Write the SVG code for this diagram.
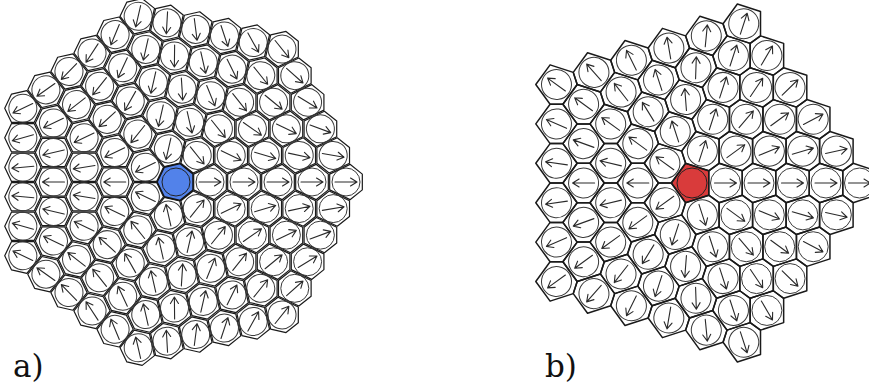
<svg xmlns="http://www.w3.org/2000/svg" xmlns:xlink="http://www.w3.org/1999/xlink" width="869" height="385" viewBox="0 0 869 385">
<style>
.hx{fill:none;stroke:#1a1a1a;stroke-width:1.2;stroke-linejoin:round}
.hb{fill:none;stroke:#1a1a1a;stroke-width:1.5;stroke-linejoin:round}
.ci{fill:none;stroke:#3a3a3a;stroke-width:1}
.ar{fill:none;stroke:#2a2a2a;stroke-width:1.1;stroke-linecap:round;stroke-linejoin:round}
.lb{font-family:"DejaVu Serif","Liberation Serif",serif;font-size:31px;fill:#111}
</style>
<defs>
<path id="ar" class="ar" d="M-11,0H11M4.5,-4L11,0L4.5,4"/>
<g id="cA"><path class="hx" d="M16.32,7.86L4.03,17.66L-16.32,7.86L-16.32,-7.86L-4.03,-17.66L16.32,-7.86Z"/><circle class="ci" r="14"/></g>
<g id="cA0"><path class="hx" d="M16.32,7.86L4.03,17.66L-16.32,7.86L-16.32,-7.86L4.03,-17.66L16.32,-7.86Z"/><circle class="ci" r="14"/></g>
<g id="cB"><path class="hb" d="M16.75,12.17L-6.4,19.69L-16.75,12.17L-16.75,-12.17L6.4,-19.69L16.75,-12.17Z"/><circle class="ci" r="15"/></g>
<g id="cB0"><path class="hb" d="M16.75,12.17L-6.4,19.69L-16.75,12.17L-16.75,-12.17L-6.4,-19.69L16.75,-12.17Z"/><circle class="ci" r="15"/></g>
</defs>
<rect width="869" height="385" fill="#fff"/>

<g id="panel-a">
<g id="a-center" transform="translate(176,182)"><polygon points="17,8.19 4.2,18.4 -11.76,14.75 -18.87,0 -11.76,-14.75 4.2,-18.4 17,-8.19" fill="#5282ea" stroke="#111" stroke-width="1.5"/><circle r="14" fill="none" stroke="#222" stroke-width="1"/></g>

<g id="a-s0" transform="translate(176,182) rotate(0)">
<g id="a0-1" transform="translate(34,0)"><use href="#cA0"/><use href="#ar" transform="rotate(0)"/></g>
<g id="a0-2" transform="translate(68,0)"><use href="#cA0"/><use href="#ar" transform="rotate(0)"/></g>
<g id="a0-3" transform="translate(55.2,26.58)"><use href="#cA"/><use href="#ar" transform="rotate(-25.71)"/></g>
<g id="a0-4" transform="translate(102,0)"><use href="#cA0"/><use href="#ar" transform="rotate(0)"/></g>
<g id="a0-5" transform="translate(89.2,26.58)"><use href="#cA"/><use href="#ar" transform="rotate(-16.59)"/></g>
<g id="a0-6" transform="translate(76.4,53.16)"><use href="#cA"/><use href="#ar" transform="rotate(-34.84)"/></g>
<g id="a0-7" transform="translate(136,0)"><use href="#cA0"/><use href="#ar" transform="rotate(0)"/></g>
<g id="a0-8" transform="translate(123.2,26.58)"><use href="#cA"/><use href="#ar" transform="rotate(-12.18)"/></g>
<g id="a0-9" transform="translate(110.4,53.16)"><use href="#cA"/><use href="#ar" transform="rotate(-25.71)"/></g>
<g id="a0-10" transform="translate(97.6,79.75)"><use href="#cA"/><use href="#ar" transform="rotate(-39.25)"/></g>
<g id="a0-11" transform="translate(170,0)"><use href="#cA0"/><use href="#ar" transform="rotate(0)"/></g>
<g id="a0-12" transform="translate(157.2,26.58)"><use href="#cA"/><use href="#ar" transform="rotate(-9.6)"/></g>
<g id="a0-13" transform="translate(144.4,53.16)"><use href="#cA"/><use href="#ar" transform="rotate(-20.21)"/></g>
<g id="a0-14" transform="translate(131.6,79.75)"><use href="#cA"/><use href="#ar" transform="rotate(-31.22)"/></g>
<g id="a0-15" transform="translate(118.8,106.33)"><use href="#cA"/><use href="#ar" transform="rotate(-41.83)"/></g>
</g>

<g id="a-s1" transform="translate(176,182) rotate(51.4286)">
<g id="a1-1" transform="translate(34,0)"><use href="#cA0"/><use href="#ar" transform="rotate(-102.86)"/></g>
<g id="a1-2" transform="translate(68,0)"><use href="#cA0"/><use href="#ar" transform="rotate(-102.86)"/></g>
<g id="a1-3" transform="translate(55.2,26.58)"><use href="#cA"/><use href="#ar" transform="rotate(-128.57)"/></g>
<g id="a1-4" transform="translate(102,0)"><use href="#cA0"/><use href="#ar" transform="rotate(-102.86)"/></g>
<g id="a1-5" transform="translate(89.2,26.58)"><use href="#cA"/><use href="#ar" transform="rotate(-119.45)"/></g>
<g id="a1-6" transform="translate(76.4,53.16)"><use href="#cA"/><use href="#ar" transform="rotate(-137.7)"/></g>
<g id="a1-7" transform="translate(136,0)"><use href="#cA0"/><use href="#ar" transform="rotate(-102.86)"/></g>
<g id="a1-8" transform="translate(123.2,26.58)"><use href="#cA"/><use href="#ar" transform="rotate(-115.04)"/></g>
<g id="a1-9" transform="translate(110.4,53.16)"><use href="#cA"/><use href="#ar" transform="rotate(-128.57)"/></g>
<g id="a1-10" transform="translate(97.6,79.75)"><use href="#cA"/><use href="#ar" transform="rotate(-142.11)"/></g>
<g id="a1-11" transform="translate(170,0)"><use href="#cA0"/><use href="#ar" transform="rotate(-102.86)"/></g>
<g id="a1-12" transform="translate(157.2,26.58)"><use href="#cA"/><use href="#ar" transform="rotate(-112.46)"/></g>
<g id="a1-13" transform="translate(144.4,53.16)"><use href="#cA"/><use href="#ar" transform="rotate(-123.07)"/></g>
<g id="a1-14" transform="translate(131.6,79.75)"><use href="#cA"/><use href="#ar" transform="rotate(-134.08)"/></g>
<g id="a1-15" transform="translate(118.8,106.33)"><use href="#cA"/><use href="#ar" transform="rotate(-144.69)"/></g>
</g>

<g id="a-s2" transform="translate(176,182) rotate(102.857)">
<g id="a2-1" transform="translate(34,0)"><use href="#cA0"/><use href="#ar" transform="rotate(154.29)"/></g>
<g id="a2-2" transform="translate(68,0)"><use href="#cA0"/><use href="#ar" transform="rotate(154.29)"/></g>
<g id="a2-3" transform="translate(55.2,26.58)"><use href="#cA"/><use href="#ar" transform="rotate(128.58)"/></g>
<g id="a2-4" transform="translate(102,0)"><use href="#cA0"/><use href="#ar" transform="rotate(154.29)"/></g>
<g id="a2-5" transform="translate(89.2,26.58)"><use href="#cA"/><use href="#ar" transform="rotate(137.7)"/></g>
<g id="a2-6" transform="translate(76.4,53.16)"><use href="#cA"/><use href="#ar" transform="rotate(119.45)"/></g>
<g id="a2-7" transform="translate(136,0)"><use href="#cA0"/><use href="#ar" transform="rotate(154.29)"/></g>
<g id="a2-8" transform="translate(123.2,26.58)"><use href="#cA"/><use href="#ar" transform="rotate(142.11)"/></g>
<g id="a2-9" transform="translate(110.4,53.16)"><use href="#cA"/><use href="#ar" transform="rotate(128.58)"/></g>
<g id="a2-10" transform="translate(97.6,79.75)"><use href="#cA"/><use href="#ar" transform="rotate(115.04)"/></g>
<g id="a2-11" transform="translate(170,0)"><use href="#cA0"/><use href="#ar" transform="rotate(154.29)"/></g>
<g id="a2-12" transform="translate(157.2,26.58)"><use href="#cA"/><use href="#ar" transform="rotate(144.69)"/></g>
<g id="a2-13" transform="translate(144.4,53.16)"><use href="#cA"/><use href="#ar" transform="rotate(134.08)"/></g>
<g id="a2-14" transform="translate(131.6,79.75)"><use href="#cA"/><use href="#ar" transform="rotate(123.07)"/></g>
<g id="a2-15" transform="translate(118.8,106.33)"><use href="#cA"/><use href="#ar" transform="rotate(112.46)"/></g>
</g>

<g id="a-s3" transform="translate(176,182) rotate(154.286)">
<g id="a3-1" transform="translate(34,0)"><use href="#cA0"/><use href="#ar" transform="rotate(51.43)"/></g>
<g id="a3-2" transform="translate(68,0)"><use href="#cA0"/><use href="#ar" transform="rotate(51.43)"/></g>
<g id="a3-3" transform="translate(55.2,26.58)"><use href="#cA"/><use href="#ar" transform="rotate(25.72)"/></g>
<g id="a3-4" transform="translate(102,0)"><use href="#cA0"/><use href="#ar" transform="rotate(51.43)"/></g>
<g id="a3-5" transform="translate(89.2,26.58)"><use href="#cA"/><use href="#ar" transform="rotate(34.84)"/></g>
<g id="a3-6" transform="translate(76.4,53.16)"><use href="#cA"/><use href="#ar" transform="rotate(16.59)"/></g>
<g id="a3-7" transform="translate(136,0)"><use href="#cA0"/><use href="#ar" transform="rotate(51.43)"/></g>
<g id="a3-8" transform="translate(123.2,26.58)"><use href="#cA"/><use href="#ar" transform="rotate(39.25)"/></g>
<g id="a3-9" transform="translate(110.4,53.16)"><use href="#cA"/><use href="#ar" transform="rotate(25.72)"/></g>
<g id="a3-10" transform="translate(97.6,79.75)"><use href="#cA"/><use href="#ar" transform="rotate(12.18)"/></g>
<g id="a3-11" transform="translate(170,0)"><use href="#cA0"/><use href="#ar" transform="rotate(51.43)"/></g>
<g id="a3-12" transform="translate(157.2,26.58)"><use href="#cA"/><use href="#ar" transform="rotate(41.83)"/></g>
<g id="a3-13" transform="translate(144.4,53.16)"><use href="#cA"/><use href="#ar" transform="rotate(31.22)"/></g>
<g id="a3-14" transform="translate(131.6,79.75)"><use href="#cA"/><use href="#ar" transform="rotate(20.21)"/></g>
<g id="a3-15" transform="translate(118.8,106.33)"><use href="#cA"/><use href="#ar" transform="rotate(9.6)"/></g>
</g>

<g id="a-s4" transform="translate(176,182) rotate(205.714)">
<g id="a4-1" transform="translate(34,0)"><use href="#cA0"/><use href="#ar" transform="rotate(-51.43)"/></g>
<g id="a4-2" transform="translate(68,0)"><use href="#cA0"/><use href="#ar" transform="rotate(-51.43)"/></g>
<g id="a4-3" transform="translate(55.2,26.58)"><use href="#cA"/><use href="#ar" transform="rotate(-77.14)"/></g>
<g id="a4-4" transform="translate(102,0)"><use href="#cA0"/><use href="#ar" transform="rotate(-51.43)"/></g>
<g id="a4-5" transform="translate(89.2,26.58)"><use href="#cA"/><use href="#ar" transform="rotate(-68.02)"/></g>
<g id="a4-6" transform="translate(76.4,53.16)"><use href="#cA"/><use href="#ar" transform="rotate(-86.27)"/></g>
<g id="a4-7" transform="translate(136,0)"><use href="#cA0"/><use href="#ar" transform="rotate(-51.43)"/></g>
<g id="a4-8" transform="translate(123.2,26.58)"><use href="#cA"/><use href="#ar" transform="rotate(-63.61)"/></g>
<g id="a4-9" transform="translate(110.4,53.16)"><use href="#cA"/><use href="#ar" transform="rotate(-77.14)"/></g>
<g id="a4-10" transform="translate(97.6,79.75)"><use href="#cA"/><use href="#ar" transform="rotate(-90.68)"/></g>
<g id="a4-11" transform="translate(170,0)"><use href="#cA0"/><use href="#ar" transform="rotate(-51.43)"/></g>
<g id="a4-12" transform="translate(157.2,26.58)"><use href="#cA"/><use href="#ar" transform="rotate(-61.03)"/></g>
<g id="a4-13" transform="translate(144.4,53.16)"><use href="#cA"/><use href="#ar" transform="rotate(-71.64)"/></g>
<g id="a4-14" transform="translate(131.6,79.75)"><use href="#cA"/><use href="#ar" transform="rotate(-82.65)"/></g>
<g id="a4-15" transform="translate(118.8,106.33)"><use href="#cA"/><use href="#ar" transform="rotate(-93.26)"/></g>
</g>

<g id="a-s5" transform="translate(176,182) rotate(257.143)">
<g id="a5-1" transform="translate(34,0)"><use href="#cA0"/><use href="#ar" transform="rotate(-154.29)"/></g>
<g id="a5-2" transform="translate(68,0)"><use href="#cA0"/><use href="#ar" transform="rotate(-154.29)"/></g>
<g id="a5-3" transform="translate(55.2,26.58)"><use href="#cA"/><use href="#ar" transform="rotate(180)"/></g>
<g id="a5-4" transform="translate(102,0)"><use href="#cA0"/><use href="#ar" transform="rotate(-154.29)"/></g>
<g id="a5-5" transform="translate(89.2,26.58)"><use href="#cA"/><use href="#ar" transform="rotate(-170.88)"/></g>
<g id="a5-6" transform="translate(76.4,53.16)"><use href="#cA"/><use href="#ar" transform="rotate(170.87)"/></g>
<g id="a5-7" transform="translate(136,0)"><use href="#cA0"/><use href="#ar" transform="rotate(-154.29)"/></g>
<g id="a5-8" transform="translate(123.2,26.58)"><use href="#cA"/><use href="#ar" transform="rotate(-166.47)"/></g>
<g id="a5-9" transform="translate(110.4,53.16)"><use href="#cA"/><use href="#ar" transform="rotate(180)"/></g>
<g id="a5-10" transform="translate(97.6,79.75)"><use href="#cA"/><use href="#ar" transform="rotate(166.46)"/></g>
<g id="a5-11" transform="translate(170,0)"><use href="#cA0"/><use href="#ar" transform="rotate(-154.29)"/></g>
<g id="a5-12" transform="translate(157.2,26.58)"><use href="#cA"/><use href="#ar" transform="rotate(-163.89)"/></g>
<g id="a5-13" transform="translate(144.4,53.16)"><use href="#cA"/><use href="#ar" transform="rotate(-174.5)"/></g>
<g id="a5-14" transform="translate(131.6,79.75)"><use href="#cA"/><use href="#ar" transform="rotate(174.49)"/></g>
<g id="a5-15" transform="translate(118.8,106.33)"><use href="#cA"/><use href="#ar" transform="rotate(163.88)"/></g>
</g>

<g id="a-s6" transform="translate(176,182) rotate(308.571)">
<g id="a6-1" transform="translate(34,0)"><use href="#cA0"/><use href="#ar" transform="rotate(102.86)"/></g>
<g id="a6-2" transform="translate(68,0)"><use href="#cA0"/><use href="#ar" transform="rotate(102.86)"/></g>
<g id="a6-3" transform="translate(55.2,26.58)"><use href="#cA"/><use href="#ar" transform="rotate(77.15)"/></g>
<g id="a6-4" transform="translate(102,0)"><use href="#cA0"/><use href="#ar" transform="rotate(102.86)"/></g>
<g id="a6-5" transform="translate(89.2,26.58)"><use href="#cA"/><use href="#ar" transform="rotate(86.27)"/></g>
<g id="a6-6" transform="translate(76.4,53.16)"><use href="#cA"/><use href="#ar" transform="rotate(68.02)"/></g>
<g id="a6-7" transform="translate(136,0)"><use href="#cA0"/><use href="#ar" transform="rotate(102.86)"/></g>
<g id="a6-8" transform="translate(123.2,26.58)"><use href="#cA"/><use href="#ar" transform="rotate(90.68)"/></g>
<g id="a6-9" transform="translate(110.4,53.16)"><use href="#cA"/><use href="#ar" transform="rotate(77.15)"/></g>
<g id="a6-10" transform="translate(97.6,79.75)"><use href="#cA"/><use href="#ar" transform="rotate(63.61)"/></g>
<g id="a6-11" transform="translate(170,0)"><use href="#cA0"/><use href="#ar" transform="rotate(102.86)"/></g>
<g id="a6-12" transform="translate(157.2,26.58)"><use href="#cA"/><use href="#ar" transform="rotate(93.26)"/></g>
<g id="a6-13" transform="translate(144.4,53.16)"><use href="#cA"/><use href="#ar" transform="rotate(82.65)"/></g>
<g id="a6-14" transform="translate(131.6,79.75)"><use href="#cA"/><use href="#ar" transform="rotate(71.64)"/></g>
<g id="a6-15" transform="translate(118.8,106.33)"><use href="#cA"/><use href="#ar" transform="rotate(61.03)"/></g>
</g>
<text id="label-a" class="lb" x="13" y="377">a)</text>
</g>

<g id="panel-b">
<g id="b-center" transform="translate(692,183)"><polygon points="16.75,12.17 -6.4,19.69 -20.7,0 -6.4,-19.69 16.75,-12.17" fill="#d93b3b" stroke="#1a1a1a" stroke-width="1.5"/><circle r="15" fill="none" stroke="#222" stroke-width="1"/></g>

<g id="b-s0" transform="translate(692,183) rotate(0)">
<g id="b0-1" transform="translate(33.5,0)"><use href="#cB0"/><use href="#ar"/></g>
<g id="b0-2" transform="translate(67,0)"><use href="#cB0"/><use href="#ar"/></g>
<g id="b0-3" transform="translate(43.85,31.86)"><use href="#cB"/><use href="#ar" transform="rotate(36)"/></g>
<g id="b0-4" transform="translate(100.5,0)"><use href="#cB0"/><use href="#ar"/></g>
<g id="b0-5" transform="translate(77.35,31.86)"><use href="#cB"/><use href="#ar" transform="rotate(22.39)"/></g>
<g id="b0-6" transform="translate(54.2,63.72)"><use href="#cB"/><use href="#ar" transform="rotate(49.61)"/></g>
<g id="b0-7" transform="translate(134,0)"><use href="#cB0"/><use href="#ar"/></g>
<g id="b0-8" transform="translate(110.85,31.86)"><use href="#cB"/><use href="#ar" transform="rotate(16.04)"/></g>
<g id="b0-9" transform="translate(87.7,63.72)"><use href="#cB"/><use href="#ar" transform="rotate(36)"/></g>
<g id="b0-10" transform="translate(64.56,95.58)"><use href="#cB"/><use href="#ar" transform="rotate(55.96)"/></g>
<g id="b0-11" transform="translate(167.5,0)"><use href="#cB0"/><use href="#ar"/></g>
<g id="b0-12" transform="translate(144.35,31.86)"><use href="#cB"/><use href="#ar" transform="rotate(12.45)"/></g>
<g id="b0-13" transform="translate(121.2,63.72)"><use href="#cB"/><use href="#ar" transform="rotate(27.73)"/></g>
<g id="b0-14" transform="translate(98.06,95.58)"><use href="#cB"/><use href="#ar" transform="rotate(44.27)"/></g>
<g id="b0-15" transform="translate(74.91,127.44)"><use href="#cB"/><use href="#ar" transform="rotate(59.55)"/></g>
</g>

<g id="b-s1" transform="translate(692,183) rotate(72)">
<g id="b1-1" transform="translate(33.5,0)"><use href="#cB0"/><use href="#ar"/></g>
<g id="b1-2" transform="translate(67,0)"><use href="#cB0"/><use href="#ar"/></g>
<g id="b1-3" transform="translate(43.85,31.86)"><use href="#cB"/><use href="#ar" transform="rotate(36)"/></g>
<g id="b1-4" transform="translate(100.5,0)"><use href="#cB0"/><use href="#ar"/></g>
<g id="b1-5" transform="translate(77.35,31.86)"><use href="#cB"/><use href="#ar" transform="rotate(22.39)"/></g>
<g id="b1-6" transform="translate(54.2,63.72)"><use href="#cB"/><use href="#ar" transform="rotate(49.61)"/></g>
<g id="b1-7" transform="translate(134,0)"><use href="#cB0"/><use href="#ar"/></g>
<g id="b1-8" transform="translate(110.85,31.86)"><use href="#cB"/><use href="#ar" transform="rotate(16.04)"/></g>
<g id="b1-9" transform="translate(87.7,63.72)"><use href="#cB"/><use href="#ar" transform="rotate(36)"/></g>
<g id="b1-10" transform="translate(64.56,95.58)"><use href="#cB"/><use href="#ar" transform="rotate(55.96)"/></g>
<g id="b1-11" transform="translate(167.5,0)"><use href="#cB0"/><use href="#ar"/></g>
<g id="b1-12" transform="translate(144.35,31.86)"><use href="#cB"/><use href="#ar" transform="rotate(12.45)"/></g>
<g id="b1-13" transform="translate(121.2,63.72)"><use href="#cB"/><use href="#ar" transform="rotate(27.73)"/></g>
<g id="b1-14" transform="translate(98.06,95.58)"><use href="#cB"/><use href="#ar" transform="rotate(44.27)"/></g>
<g id="b1-15" transform="translate(74.91,127.44)"><use href="#cB"/><use href="#ar" transform="rotate(59.55)"/></g>
</g>

<g id="b-s2" transform="translate(692,183) rotate(144)">
<g id="b2-1" transform="translate(33.5,0)"><use href="#cB0"/><use href="#ar"/></g>
<g id="b2-2" transform="translate(67,0)"><use href="#cB0"/><use href="#ar"/></g>
<g id="b2-3" transform="translate(43.85,31.86)"><use href="#cB"/><use href="#ar" transform="rotate(36)"/></g>
<g id="b2-4" transform="translate(100.5,0)"><use href="#cB0"/><use href="#ar"/></g>
<g id="b2-5" transform="translate(77.35,31.86)"><use href="#cB"/><use href="#ar" transform="rotate(22.39)"/></g>
<g id="b2-6" transform="translate(54.2,63.72)"><use href="#cB"/><use href="#ar" transform="rotate(49.61)"/></g>
<g id="b2-7" transform="translate(134,0)"><use href="#cB0"/><use href="#ar"/></g>
<g id="b2-8" transform="translate(110.85,31.86)"><use href="#cB"/><use href="#ar" transform="rotate(16.04)"/></g>
<g id="b2-9" transform="translate(87.7,63.72)"><use href="#cB"/><use href="#ar" transform="rotate(36)"/></g>
<g id="b2-10" transform="translate(64.56,95.58)"><use href="#cB"/><use href="#ar" transform="rotate(55.96)"/></g>
<g id="b2-11" transform="translate(167.5,0)"><use href="#cB0"/><use href="#ar"/></g>
<g id="b2-12" transform="translate(144.35,31.86)"><use href="#cB"/><use href="#ar" transform="rotate(12.45)"/></g>
<g id="b2-13" transform="translate(121.2,63.72)"><use href="#cB"/><use href="#ar" transform="rotate(27.73)"/></g>
<g id="b2-14" transform="translate(98.06,95.58)"><use href="#cB"/><use href="#ar" transform="rotate(44.27)"/></g>
<g id="b2-15" transform="translate(74.91,127.44)"><use href="#cB"/><use href="#ar" transform="rotate(59.55)"/></g>
</g>

<g id="b-s3" transform="translate(692,183) rotate(216)">
<g id="b3-1" transform="translate(33.5,0)"><use href="#cB0"/><use href="#ar"/></g>
<g id="b3-2" transform="translate(67,0)"><use href="#cB0"/><use href="#ar"/></g>
<g id="b3-3" transform="translate(43.85,31.86)"><use href="#cB"/><use href="#ar" transform="rotate(36)"/></g>
<g id="b3-4" transform="translate(100.5,0)"><use href="#cB0"/><use href="#ar"/></g>
<g id="b3-5" transform="translate(77.35,31.86)"><use href="#cB"/><use href="#ar" transform="rotate(22.39)"/></g>
<g id="b3-6" transform="translate(54.2,63.72)"><use href="#cB"/><use href="#ar" transform="rotate(49.61)"/></g>
<g id="b3-7" transform="translate(134,0)"><use href="#cB0"/><use href="#ar"/></g>
<g id="b3-8" transform="translate(110.85,31.86)"><use href="#cB"/><use href="#ar" transform="rotate(16.04)"/></g>
<g id="b3-9" transform="translate(87.7,63.72)"><use href="#cB"/><use href="#ar" transform="rotate(36)"/></g>
<g id="b3-10" transform="translate(64.56,95.58)"><use href="#cB"/><use href="#ar" transform="rotate(55.96)"/></g>
<g id="b3-11" transform="translate(167.5,0)"><use href="#cB0"/><use href="#ar"/></g>
<g id="b3-12" transform="translate(144.35,31.86)"><use href="#cB"/><use href="#ar" transform="rotate(12.45)"/></g>
<g id="b3-13" transform="translate(121.2,63.72)"><use href="#cB"/><use href="#ar" transform="rotate(27.73)"/></g>
<g id="b3-14" transform="translate(98.06,95.58)"><use href="#cB"/><use href="#ar" transform="rotate(44.27)"/></g>
<g id="b3-15" transform="translate(74.91,127.44)"><use href="#cB"/><use href="#ar" transform="rotate(59.55)"/></g>
</g>

<g id="b-s4" transform="translate(692,183) rotate(288)">
<g id="b4-1" transform="translate(33.5,0)"><use href="#cB0"/><use href="#ar"/></g>
<g id="b4-2" transform="translate(67,0)"><use href="#cB0"/><use href="#ar"/></g>
<g id="b4-3" transform="translate(43.85,31.86)"><use href="#cB"/><use href="#ar" transform="rotate(36)"/></g>
<g id="b4-4" transform="translate(100.5,0)"><use href="#cB0"/><use href="#ar"/></g>
<g id="b4-5" transform="translate(77.35,31.86)"><use href="#cB"/><use href="#ar" transform="rotate(22.39)"/></g>
<g id="b4-6" transform="translate(54.2,63.72)"><use href="#cB"/><use href="#ar" transform="rotate(49.61)"/></g>
<g id="b4-7" transform="translate(134,0)"><use href="#cB0"/><use href="#ar"/></g>
<g id="b4-8" transform="translate(110.85,31.86)"><use href="#cB"/><use href="#ar" transform="rotate(16.04)"/></g>
<g id="b4-9" transform="translate(87.7,63.72)"><use href="#cB"/><use href="#ar" transform="rotate(36)"/></g>
<g id="b4-10" transform="translate(64.56,95.58)"><use href="#cB"/><use href="#ar" transform="rotate(55.96)"/></g>
<g id="b4-11" transform="translate(167.5,0)"><use href="#cB0"/><use href="#ar"/></g>
<g id="b4-12" transform="translate(144.35,31.86)"><use href="#cB"/><use href="#ar" transform="rotate(12.45)"/></g>
<g id="b4-13" transform="translate(121.2,63.72)"><use href="#cB"/><use href="#ar" transform="rotate(27.73)"/></g>
<g id="b4-14" transform="translate(98.06,95.58)"><use href="#cB"/><use href="#ar" transform="rotate(44.27)"/></g>
<g id="b4-15" transform="translate(74.91,127.44)"><use href="#cB"/><use href="#ar" transform="rotate(59.55)"/></g>
</g>
<text id="label-b" class="lb" x="545" y="377">b)</text>
</g>
</svg>
